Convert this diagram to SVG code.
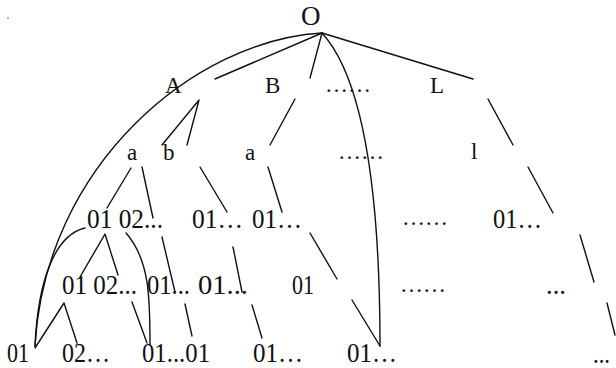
<svg xmlns="http://www.w3.org/2000/svg" width="616" height="368" viewBox="0 0 616 368">
  <style>
    text { font-family: "Liberation Serif", "DejaVu Serif", serif; fill: #111; }
    .root { font-size: 27px; }
    .lv1 { font-size: 23px; }
    .num { font-size: 28px; }
    .edges path { fill: none; stroke: #111; stroke-width: 1.4; stroke-linecap: round; stroke-linejoin: round; }
  </style>
  <rect width="616" height="368" fill="#fff"/>
  <circle cx="8" cy="18" r="0.8" fill="#555"/>

  <!-- connectors -->
  <g class="edges" id="connectors">
    <path d="M322,33 L215,79"/>
    <path d="M322,33 L310,78"/>
    <path d="M322,33 L473,79"/>
    <path d="M322,33 C195,40 45,165 35,346"/>
    <path d="M322,33 C365,80 380,200 380,346"/>
    <path d="M352,300 L380,346"/>
    <path d="M162,145 L199,100 L187,145"/>
    <path d="M295,99 L270,145"/>
    <path d="M488,99 L513,145"/>
    <path d="M528,167 L553,213"/>
    <path d="M580,235 L594,282"/>
    <path d="M607,303 L615,335"/>
    <path d="M131,168 L107,208"/>
    <path d="M142,167 L153,218"/>
    <path d="M200,167 L227,212"/>
    <path d="M268,167 L282,212"/>
    <path d="M310,233 L337,279"/>
    <path d="M80,277 L105,234 L118,275"/>
    <path d="M85,228 C55,235 38,280 35,346"/>
    <path d="M126,233 C150,260 150,300 150,345"/>
    <path d="M162,237 L175,292"/>
    <path d="M233,247 L242,292"/>
    <path d="M35,348 L64,303 L77,343"/>
    <path d="M132,302 L147,343"/>
    <path d="M185,304 L192,336"/>
    <path d="M252,305 L262,338"/>
  </g>

  <!-- root -->
  <g id="n-O"><text class="root" x="301" y="25">O</text></g>

  <!-- level 1 -->
  <g id="n-A"><text class="lv1" x="165" y="93">A</text></g>
  <g id="n-B"><text class="lv1" x="265" y="93">B</text></g>
  <g id="n-l1-more"><text class="lv1" x="325" y="92">……</text></g>
  <g id="n-L"><text class="lv1" x="430" y="93">L</text></g>

  <!-- level 2 -->
  <g id="n-Aa"><text class="lv1" x="127" y="160">a</text></g>
  <g id="n-Ab"><text class="lv1" x="163" y="160">b</text></g>
  <g id="n-Ba"><text class="lv1" x="245" y="160">a</text></g>
  <g id="n-l2-more"><text class="lv1" x="338" y="159">……</text></g>
  <g id="n-Ll"><text class="lv1" x="471" y="159">l</text></g>

  <!-- level 3 -->
  <g id="n-l3-a"><text class="num" x="87" y="228" textLength="76" lengthAdjust="spacingAndGlyphs">01 02...</text></g>
  <g id="n-l3-b"><text class="num" x="192" y="228" textLength="51" lengthAdjust="spacingAndGlyphs">01…</text></g>
  <g id="n-l3-c"><text class="num" x="252" y="228" textLength="50" lengthAdjust="spacingAndGlyphs">01…</text></g>
  <g id="n-l3-more"><text class="lv1" x="402" y="225">……</text></g>
  <g id="n-l3-l"><text class="num" x="493" y="228" textLength="49" lengthAdjust="spacingAndGlyphs">01…</text></g>

  <!-- level 4 -->
  <g id="n-l4-a"><text class="num" x="62" y="294" textLength="75" lengthAdjust="spacingAndGlyphs">01 02...</text></g>
  <g id="n-l4-b"><text class="num" x="147" y="294" textLength="43" lengthAdjust="spacingAndGlyphs">01...</text></g>
  <g id="n-l4-c"><text class="num" x="198" y="294" textLength="50" lengthAdjust="spacingAndGlyphs">01...</text></g>
  <g id="n-l4-d"><text class="num" x="292" y="294" textLength="22" lengthAdjust="spacingAndGlyphs">01</text></g>
  <g id="n-l4-more"><text class="lv1" x="400" y="292">……</text></g>
  <g id="n-l4-l"><text class="num" x="546" y="294" textLength="20" lengthAdjust="spacingAndGlyphs">...</text></g>

  <!-- level 5 -->
  <g id="n-l5-a"><text class="num" x="7" y="362" textLength="22" lengthAdjust="spacingAndGlyphs">01</text></g>
  <g id="n-l5-b"><text class="num" x="62" y="362" textLength="48" lengthAdjust="spacingAndGlyphs">02…</text></g>
  <g id="n-l5-c"><text class="num" x="142" y="362" textLength="68" lengthAdjust="spacingAndGlyphs">01...01</text></g>
  <g id="n-l5-d"><text class="num" x="253" y="362" textLength="50" lengthAdjust="spacingAndGlyphs">01…</text></g>
  <g id="n-l5-e"><text class="num" x="347" y="362" textLength="50" lengthAdjust="spacingAndGlyphs">01…</text></g>
  <g id="n-l5-l"><text class="num" x="593" y="363" textLength="17" lengthAdjust="spacingAndGlyphs">...</text></g>
</svg>
